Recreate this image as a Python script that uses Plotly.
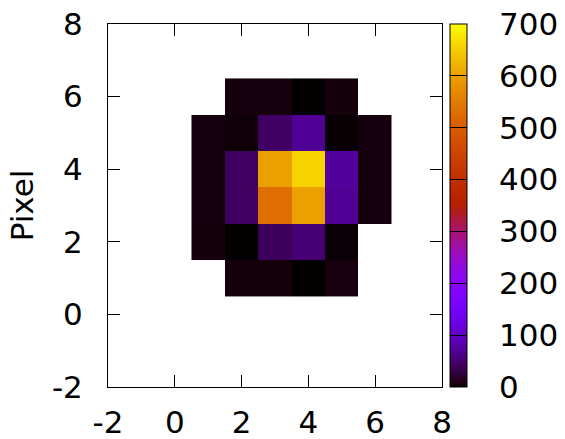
import math
import plotly.graph_objects as go

# Pixel grid (x = column centres, y = row centres)
x_pix = [1, 2, 3, 4, 5, 6]
y_pix = [1, 2, 3, 4, 5, 6]

# Intensity values per row (y = 1 .. 6); None = no data
row_y1 = [None, 5.0, 5.0, 0.5, 6.0, None]
row_y2 = [5.0, 0.8, 41.0, 52.0, 2.0, None]
row_y3 = [5.5, 44.0, 530.0, 600.0, 70.0, 5.5]
row_y4 = [5.5, 44.0, 600.0, 658.0, 74.0, 5.5]
row_y5 = [5.5, 3.0, 45.0, 70.0, 1.8, 5.5]
row_y6 = [None, 5.5, 5.5, 0.3, 5.0, None]
z_vals = [row_y1, row_y2, row_y3, row_y4, row_y5, row_y6]

axis_ticks = [-2, 0, 2, 4, 6, 8]
axis_labels = ["-2", "0", "2", "4", "6", "8"]
cb_ticks = [0, 100, 200, 300, 400, 500, 600, 700]
cb_labels = ["0", "100", "200", "300", "400", "500", "600", "700"]

# gnuplot default palette (rgbformulae 7,5,15)
def pal(t):
    r = math.sqrt(t)
    g = t ** 3
    b = max(0.0, math.sin(2 * math.pi * t))
    return "rgb(%d,%d,%d)" % (round(255 * r), round(255 * g), round(255 * b))

n = 200
cscale = [[i / n, pal(i / n)] for i in range(n + 1)]

FONT = "DejaVu Sans"
FS = 31
PAD = "\u00a0\u00a0\u2006"
fig = go.Figure(go.Heatmap(
    x=x_pix, y=y_pix, z=z_vals, zmin=0, zmax=700,
    colorscale=cscale, hoverongaps=False,
    colorbar=dict(
        x=1.0227, xanchor="left", xpad=0, ypad=0,
        y=0.5, yanchor="middle", len=1, lenmode="fraction",
        thickness=17, thicknessmode="pixels",
        outlinewidth=1, outlinecolor="black",
        tickvals=cb_ticks, ticktext=[PAD + s for s in cb_labels],
        ticks="inside", ticklen=17, tickcolor="black", tickwidth=1,
        tickfont=dict(family=FONT, size=FS, color="black"),
    ),
))

axcommon = dict(
    range=[-2, 8], tickvals=axis_ticks, ticktext=axis_labels, ticks="inside", ticklen=12,
    tickcolor="black", tickwidth=1, showline=True, linecolor="black", linewidth=1,
    mirror="allticks", showgrid=False, zeroline=False,
    tickfont=dict(family=FONT, size=FS, color="black"),
)
fig.update_xaxes(**axcommon, ticklabelstandoff=8)
fig.update_yaxes(**axcommon, ticklabelstandoff=18,
                 title=dict(text="Pixel", font=dict(family=FONT, size=FS, color="black"), standoff=9))

fig.update_layout(
    width=565, height=439,
    margin=dict(l=107.5, r=123.3, t=24, b=52.3, autoexpand=False),
    paper_bgcolor="white", plot_bgcolor="white",
    font=dict(family=FONT, color="black"),
)
fig.write_html("out.html")
